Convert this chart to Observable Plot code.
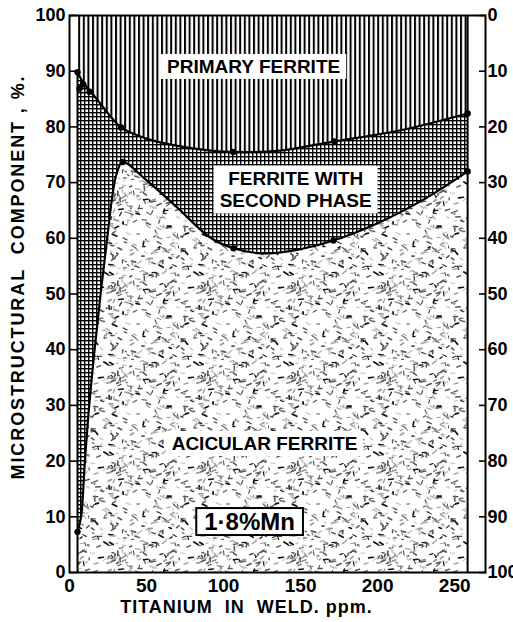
<!DOCTYPE html>
<html>
<head>
<meta charset="utf-8">
<script src="https://cdn.jsdelivr.net/npm/d3@7"></script>
<script src="https://cdn.jsdelivr.net/npm/@observablehq/plot@0.6"></script>
<style>
  html, body { margin: 0; padding: 0; background: #fff; overflow: hidden; }
  #chart svg { display: block; }
</style>
</head>
<body>
<svg id="patterns" width="0" height="0" style="position:absolute"><defs></defs></svg>
<div id="chart"></div>
<script>
// ---- Data ----
// Boundary primary ferrite / ferrite with second phase (line trace)
const upperTi  = [5.2, 9, 13, 20, 33.5, 50, 70, 90, 106.3, 135, 172, 215, 258.4];
const upperPct = [89.8, 87.9, 86.6, 84.2, 79.9, 77.9, 76.6, 75.8, 75.5, 75.7, 77.4, 79.4, 82.4];
// Boundary ferrite with second phase / acicular ferrite (line trace)
const lowerTi  = [5.2, 7.5, 10, 12.8, 16.3, 20.2, 24.5, 27.5, 30.5, 34.5, 48, 70, 91.5, 106.4, 124, 145, 171.3, 200, 232, 258.4];
const lowerPct = [7.3, 10, 20, 30, 40, 50, 60, 67, 71.5, 73.7, 70.9, 65.5, 60.1, 58.2, 57.3, 57.8, 59.6, 62.7, 67.3, 72.0];
// Measured points (dots)
const upperMarkTi  = [5.2, 6.5, 9, 13, 33.5, 106.3, 172, 258.4];
const upperMarkPct = [89.8, 86.9, 87.6, 86.3, 79.9, 75.5, 77.4, 82.4];
const lowerMarkTi  = [5.2, 34.5, 106.4, 171.3, 258.4];
const lowerMarkPct = [7.3, 73.7, 58.2, 59.6, 72.0];
// Ticks
const xTicks = [0, 50, 100, 150, 200, 250];
const yTicks = [0, 10, 20, 30, 40, 50, 60, 70, 80, 90, 100];
// Texts
const xTitle = "TITANIUM\u00a0\u00a0IN\u00a0\u00a0WELD.\u00a0ppm.";
const yTitle = "MICROSTRUCTURAL\u00a0\u00a0COMPONENT\u00a0,\u00a0%.";
const regionText = ["PRIMARY FERRITE", "FERRITE WITH\nSECOND PHASE", "ACICULAR FERRITE"];
const regionTi   = [119.5, 146.8, 126.6];
const regionPct  = [91.0, 68.9, 23.3];
const noteText = ["1·8%Mn"];
const noteTi   = [116.9];
const notePct  = [9.0];

// ---- Patterns (texture only) ----
const defs = d3.select("#patterns defs");
const vh = defs.append("pattern").attr("id", "vhatch").attr("patternUnits", "userSpaceOnUse")
  .attr("width", 4.6).attr("height", 10);
vh.append("rect").attr("width", 4.6).attr("height", 10).attr("fill", "#fff");
vh.append("rect").attr("width", 2).attr("height", 10).attr("fill", "#000");

const xh = defs.append("pattern").attr("id", "xhatch").attr("patternUnits", "userSpaceOnUse")
  .attr("width", 4).attr("height", 4);
xh.append("rect").attr("width", 4).attr("height", 4).attr("fill", "#000");
xh.append("rect").attr("x", 1.4).attr("y", 1.4).attr("width", 2.6).attr("height", 2.6).attr("fill", "#fff");

const S = 90;
const st = defs.append("pattern").attr("id", "stipple").attr("patternUnits", "userSpaceOnUse")
  .attr("width", S).attr("height", S);
st.append("rect").attr("width", S).attr("height", S).attr("fill", "#fff");
const rnd = d3.randomLcg(0.4242);
for (let i = 0; i < 270; i++) {
  const x = rnd() * S, y = rnd() * S;
  const len = 1.8 + rnd() * 3.2;
  let a = (rnd() - 0.5) * 1.4;
  if (rnd() < 0.2) a += Math.PI / 2.3;
  const s = rnd();
  const col = s < 0.14 ? "#111" : s < 0.45 ? "#555" : s < 0.75 ? "#999" : "#c4c4c4";
  const w = 1.0 + rnd() * 0.8;
  st.append("line")
    .attr("x1", x).attr("y1", y)
    .attr("x2", x + len * Math.cos(a)).attr("y2", y + len * Math.sin(a))
    .attr("stroke", col).attr("stroke-width", w).attr("stroke-linecap", "round");
}

// ---- Build chart ----
const upper = upperTi.map((x, i) => ({x, y: upperPct[i]}));
const lower = lowerTi.map((x, i) => ({x, y: lowerPct[i]}));
const marksPts = upperMarkTi.map((x, i) => ({x, y: upperMarkPct[i]}))
  .concat(lowerMarkTi.map((x, i) => ({x, y: lowerMarkPct[i]})));
const regions = regionText.map((t, i) => ({t, x: regionTi[i], y: regionPct[i]}));
const notes = noteText.map((t, i) => ({t, x: noteTi[i], y: notePct[i]}));
const curve = "catmull-rom";
const font = "'Liberation Sans', Arial, Helvetica, sans-serif";

const chart = Plot.plot({
  width: 513,
  height: 622,
  marginTop: 15,
  marginBottom: 50,
  marginLeft: 69,
  marginRight: 28,
  style: {fontFamily: font, fontWeight: "bold", fontSize: "19px", color: "#000", background: "#fff"},
  x: {domain: [0, 270], axis: null},
  y: {domain: [0, 100], axis: null},
  marks: [
    Plot.areaY(upper, {x: "x", y1: "y", y2: 100, fill: "url(#vhatch)", curve}),
    Plot.areaY(upper, {x: "x", y1: 0, y2: "y", fill: "url(#xhatch)", curve}),
    Plot.areaY(lower, {x: "x", y1: 0, y2: "y", fill: "url(#stipple)", curve}),
    Plot.line(upper, {x: "x", y: "y", stroke: "#000", strokeWidth: 2.2, curve}),
    Plot.line(lower, {x: "x", y: "y", stroke: "#000", strokeWidth: 2.2, curve}),
    Plot.ruleX([upperTi[0]], {y1: 0, y2: upperPct[0], stroke: "#000", strokeWidth: 2}),
    Plot.ruleX([upperTi[upperTi.length - 1]], {y1: 0, y2: 100, stroke: "#000", strokeWidth: 2}),
    Plot.dot(marksPts, {x: "x", y: "y", r: 3.2, fill: "#000"}),
    Plot.frame({stroke: "#000", strokeWidth: 2}),
    Plot.axisX(xTicks, {tickSize: 0, tickPadding: 6, label: null}),
    Plot.axisY(yTicks, {anchor: "left", tickSize: 0, tickPadding: 4, label: null, fontSize: 18}),
    Plot.axisY(yTicks, {anchor: "left", tickSize: -8, text: null, label: null, strokeWidth: 1.6}),
    Plot.axisY(yTicks, {anchor: "right", tickSize: 0, tickPadding: 2, label: null, fontSize: 18,
      tickFormat: d => String(100 - d)}),
    Plot.axisY(yTicks, {anchor: "right", tickSize: -7, text: null, label: null, strokeWidth: 1.6}),
    Plot.text(regions, {x: "x", y: "y", text: "t", fontSize: 19, lineHeight: 1.2,
      fill: "#000", className: "wbox"}),
    Plot.text(notes, {x: "x", y: "y", text: "t", fontSize: 24, fill: "#000", className: "bbox"}),
    Plot.text([xTitle], {text: d => d, frameAnchor: "bottom", textAnchor: "middle", lineAnchor: "middle",
      dx: -31, dy: 35, fontSize: 18, fill: "#000", className: "xtitle"}),
    Plot.text([yTitle], {text: d => d, frameAnchor: "left", textAnchor: "middle", lineAnchor: "middle",
      dx: -51, dy: -17, rotate: -90, fontSize: 18, fill: "#000", className: "ytitle"})
  ]
});

document.getElementById("chart").append(chart);

d3.select(chart).selectAll("g.xtitle text").style("letter-spacing", "1px");
d3.select(chart).selectAll("g.ytitle text").style("letter-spacing", "1.9px");

function boxes(cls, padX, padY, stroke) {
  chart.querySelectorAll(`g.${cls} text`).forEach(t => {
    const b = t.getBBox();
    const r = document.createElementNS("http://www.w3.org/2000/svg", "rect");
    r.setAttribute("x", b.x - padX);
    r.setAttribute("y", b.y - padY);
    r.setAttribute("width", b.width + 2 * padX);
    r.setAttribute("height", b.height + 2 * padY);
    r.setAttribute("fill", "#fff");
    if (stroke) { r.setAttribute("stroke", "#000"); r.setAttribute("stroke-width", 2); }
    const tr = t.getAttribute("transform");
    if (tr) r.setAttribute("transform", tr);
    t.parentNode.insertBefore(r, t);
  });
}
boxes("wbox", 6, 2, false);
boxes("bbox", 8, 0, true);
</script>
</body>
</html>
